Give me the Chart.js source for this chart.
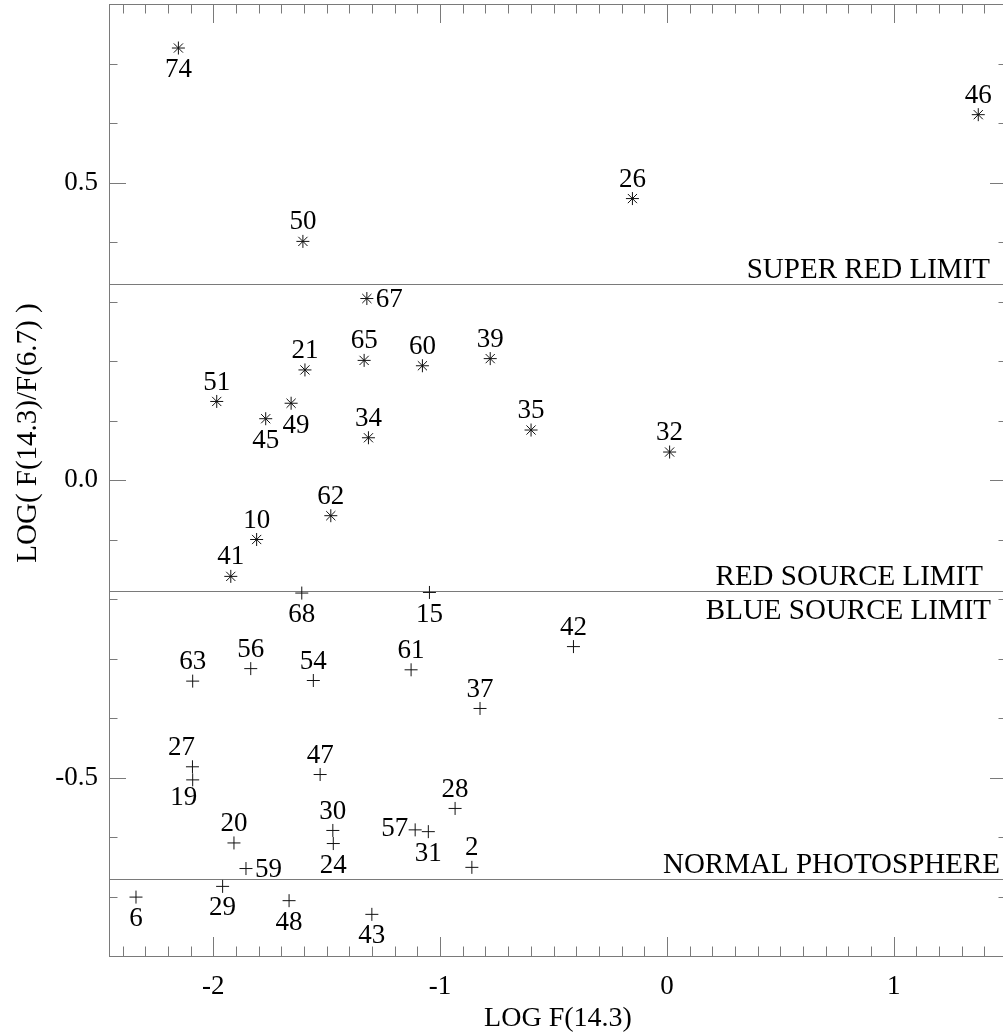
<!DOCTYPE html>
<html>
<head>
<meta charset="utf-8">
<title>LOG F(14.3) vs LOG( F(14.3)/F(6.7) )</title>
<script src="https://cdn.jsdelivr.net/npm/chart.js@4.4.1/dist/chart.umd.min.js"></script>
<style>
  html, body { margin: 0; padding: 0; background: #fff; overflow: hidden; }
  canvas { display: block; }
</style>
</head>
<body>
<canvas id="chart" width="1003" height="1032"></canvas>
<script>
// Sources redder than the red-source limit (asterisks)
const redIds = [74, 46, 26, 50, 67, 65, 21, 51, 49, 45, 34, 60, 39, 35, 32, 62, 10, 41];
const redX   = [-2.154, 1.373, -0.152, -1.605, -1.323, -1.335, -1.596, -1.985, -1.657, -1.769, -1.316, -1.078, -0.779, -0.599, 0.012, -1.482, -1.809, -1.923];
const redY   = [0.726, 0.614, 0.473, 0.401, 0.305, 0.201, 0.185, 0.132, 0.129, 0.103, 0.071, 0.192, 0.204, 0.084, 0.047, -0.060, -0.100, -0.162];

// Sources bluer than the blue-source limit (plus signs)
const blueIds = [68, 15, 42, 63, 56, 54, 61, 37, 27, 19, 47, 28, 20, 30, 57, 31, 24, 2, 59, 29, 6, 48, 43];
const blueX   = [-1.610, -1.047, -0.412, -2.091, -1.835, -1.559, -1.128, -0.824, -2.092, -2.091, -1.529, -0.934, -1.909, -1.473, -1.110, -1.052, -1.471, -0.860, -1.856, -1.959, -2.341, -1.666, -1.301];
const blueY   = [-0.190, -0.189, -0.280, -0.338, -0.317, -0.337, -0.319, -0.384, -0.482, -0.504, -0.495, -0.552, -0.610, -0.589, -0.588, -0.591, -0.611, -0.651, -0.653, -0.683, -0.701, -0.707, -0.730];

// Colour-limit levels and their names
const limitLevels = [0.329, -0.186, -0.670];
const limitNames  = ['SUPER RED LIMIT', 'RED SOURCE LIMIT', 'BLUE SOURCE LIMIT', 'NORMAL PHOTOSPHERE'];
const limitNameLevel = [0.329, -0.186, -0.186, -0.670];

// Axis ticks
const xTickValues = [-2, -1, 0, 1];
const xTickLabels = ['-2', '-1', '0', '1'];
const yTickValues = [-0.5, 0, 0.5];
const yTickLabels = ['-0.5', '0.0', '0.5'];

// Where each source number sits relative to its symbol
const redLabelSide  = ['S','N','N','N','E','N','N','N','SE','S','N','N','N','N','N','N','N','N'];
const blueLabelSide = ['S','S','N','N','N','N','N','N','NW','SW','N','N','N','N','W','S','S','N','E','S','S','S','S'];
// Name placement: side of the line and right edge of the text
const limitNameSide  = ['above', 'above', 'below', 'above'];
const limitNameRight = [990, 983, 991, 1000];

const FONT = '"Liberation Serif", "Times New Roman", serif';
const AXIS_GREY = '#7a7a7a';
// The right-hand frame sits just past the canvas edge; only its ticks show
const RIGHT_FRAME_GAP = 4;

const framePlugin = {
  id: 'frameTicks',
  afterDraw(chart) {
    const { ctx, chartArea: a, scales: { x, y } } = chart;
    const rightFrame = a.right + RIGHT_FRAME_GAP;
    ctx.save();
    ctx.strokeStyle = AXIS_GREY;
    ctx.lineWidth = 1;
    ctx.beginPath();
    // top, left and bottom edges of the box
    ctx.moveTo(rightFrame, a.top + 0.5); ctx.lineTo(a.left + 0.5, a.top + 0.5);
    ctx.lineTo(a.left + 0.5, a.bottom + 0.5); ctx.lineTo(rightFrame, a.bottom + 0.5);
    for (let k = Math.ceil(x.min * 10 - 1e-6); k <= Math.floor(x.max * 10 + 1e-6); k++) {
      const px = Math.round(x.getPixelForValue(k / 10)) + 0.5;
      const len = (k % 10 === 0) ? 19 : 9.5;
      ctx.moveTo(px, a.bottom); ctx.lineTo(px, a.bottom - len);
      ctx.moveTo(px, a.top); ctx.lineTo(px, a.top + len);
    }
    for (let k = Math.ceil(y.min * 10 - 1e-6); k <= Math.floor(y.max * 10 + 1e-6); k++) {
      const py = Math.round(y.getPixelForValue(k / 10)) + 0.5;
      const len = (k % 5 === 0) ? 17 : 8.5;
      ctx.moveTo(a.left, py); ctx.lineTo(a.left + len, py);
      ctx.moveTo(rightFrame, py); ctx.lineTo(rightFrame - len, py);
    }
    ctx.stroke();

    // axis titles
    ctx.fillStyle = '#000';
    ctx.textAlign = 'center';
    ctx.textBaseline = 'alphabetic';
    ctx.font = '28px ' + FONT;
    ctx.fillText('LOG F(14.3)', (a.left + rightFrame) / 2, 1026);
    ctx.font = '29px ' + FONT;
    ctx.translate(36, 433);
    ctx.rotate(-Math.PI / 2);
    ctx.fillText('LOG( F(14.3)/F(6.7) )', 0, 0);
    ctx.restore();
  }
};

const limitPlugin = {
  id: 'limits',
  beforeDatasetsDraw(chart) {
    const { ctx, chartArea: a, scales: { y } } = chart;
    ctx.save();
    ctx.strokeStyle = AXIS_GREY;
    ctx.lineWidth = 1;
    ctx.beginPath();
    limitLevels.forEach(v => {
      const py = Math.round(y.getPixelForValue(v)) + 0.5;
      ctx.moveTo(a.left, py); ctx.lineTo(a.right, py);
    });
    ctx.stroke();
    ctx.fillStyle = '#000';
    ctx.font = '29px ' + FONT;
    ctx.textAlign = 'right';
    ctx.textBaseline = 'alphabetic';
    limitNames.forEach((name, i) => {
      const py = y.getPixelForValue(limitNameLevel[i]);
      const base = limitNameSide[i] === 'above' ? py - 6 : py + 28;
      ctx.fillText(name, limitNameRight[i], base);
    });
    ctx.restore();
  }
};

const OFFSETS = {
  N:  { dx: 0,   dy: -19, align: 'center' },
  S:  { dx: 0,   dy: 22,  align: 'center' },
  E:  { dx: 9,   dy: 1,   align: 'left' },
  W:  { dx: -7,  dy: -1,  align: 'right' },
  NW: { dx: -11, dy: -19, align: 'center' },
  SW: { dx: -9,  dy: 18,  align: 'center' },
  SE: { dx: 5,   dy: 23,  align: 'center' }
};

const labelPlugin = {
  id: 'sourceNumbers',
  afterDatasetsDraw(chart) {
    const { ctx } = chart;
    const ids = [redIds, blueIds];
    const sides = [redLabelSide, blueLabelSide];
    ctx.save();
    ctx.fillStyle = '#000';
    ctx.font = '27px ' + FONT;
    ctx.textBaseline = 'middle';
    chart.data.datasets.forEach((ds, d) => {
      chart.getDatasetMeta(d).data.forEach((pt, i) => {
        const o = OFFSETS[sides[d][i]];
        ctx.textAlign = o.align;
        ctx.fillText(String(ids[d][i]), pt.x + o.dx, pt.y + o.dy);
      });
    });
    ctx.restore();
  }
};

// Scales keep no extra padding so the plot box sits exactly where the layout puts it
function noPadding(s) {
  s.paddingLeft = 0; s.paddingRight = 0; s.paddingTop = 0; s.paddingBottom = 0;
}

new Chart(document.getElementById('chart'), {
  type: 'scatter',
  data: {
    datasets: [
      {
        label: 'red sources',
        data: redX.map((x, i) => ({ x, y: redY[i] })),
        pointStyle: 'star', pointRadius: 6.5,
        borderColor: '#111', borderWidth: 1, backgroundColor: 'rgba(0,0,0,0)'
      },
      {
        label: 'blue sources',
        data: blueX.map((x, i) => ({ x, y: blueY[i] })),
        pointStyle: 'cross', pointRadius: 6.5,
        borderColor: '#111', borderWidth: 1, backgroundColor: 'rgba(0,0,0,0)'
      }
    ]
  },
  options: {
    responsive: false,
    animation: false,
    devicePixelRatio: 1,
    layout: { autoPadding: false, padding: { top: 4, right: 0, bottom: 0, left: 0 } },
    plugins: { legend: { display: false }, tooltip: { enabled: false } },
    scales: {
      x: {
        type: 'linear', min: -2.46, max: 1.482,
        grid: { display: false, drawTicks: false },
        border: { display: false },
        afterBuildTicks: s => { s.ticks = xTickValues.map(v => ({ value: v })); },
        afterFit: s => { s.height = 76; noPadding(s); },
        ticks: {
          callback: (v, i) => xTickLabels[i],
          font: { family: FONT, size: 27 }, color: '#000',
          padding: 15, maxRotation: 0, autoSkip: false
        }
      },
      y: {
        type: 'linear', min: -0.8, max: 0.8,
        grid: { display: false, drawTicks: false },
        border: { display: false },
        afterBuildTicks: s => { s.ticks = yTickValues.map(v => ({ value: v })); },
        afterFit: s => { s.width = 109; noPadding(s); },
        ticks: {
          callback: (v, i) => yTickLabels[i],
          font: { family: FONT, size: 27 }, color: '#000',
          padding: 11, autoSkip: false
        }
      }
    }
  },
  plugins: [limitPlugin, labelPlugin, framePlugin]
});
</script>
</body>
</html>
